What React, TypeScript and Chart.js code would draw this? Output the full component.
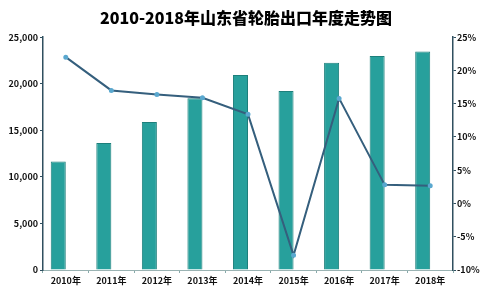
import React, { useEffect, useRef } from "react";
import { Chart, registerables } from "chart.js";

Chart.register(...registerables);

const categories = ["2010年", "2011年", "2012年", "2013年", "2014年", "2015年", "2016年", "2017年", "2018年"];
const exportVolume = [11650, 13640, 15900, 18450, 20940, 19230, 22260, 22970, 23470];
const growthRate = [22.0, 17.0, 16.4, 15.9, 13.4, -7.8, 15.8, 2.8, 2.65];
const titleText = "2010-2018年山东省轮胎出口年度走势图";

const FONT = "'Noto Sans CJK SC', 'Noto Sans', sans-serif";

export default function App() {
  const ref = useRef<HTMLCanvasElement | null>(null);

  useEffect(() => {
    document.body.style.margin = "0";
    const ctx = ref.current!.getContext("2d")!;
    const chart = new Chart(ctx, {
      data: {
        labels: categories,
        datasets: [
          {
            type: "line",
            label: "增长率",
            data: growthRate,
            yAxisID: "y1",
            borderColor: "#355f7d",
            borderWidth: 2,
            pointRadius: 1.5,
            pointBackgroundColor: "#5aa8cf",
            pointBorderColor: "#5aa8cf",
            tension: 0,
            order: 0,
          },
          {
            type: "bar",
            label: "出口量",
            data: exportVolume,
            yAxisID: "y",
            backgroundColor: "#27a09c",
            borderColor: "#1d7f7b",
            borderWidth: 1,
            barPercentage: 1,
            categoryPercentage: 0.66,
            order: 1,
          },
          {
            type: "bar",
            label: "",
            data: categories.map(() => null),
            yAxisID: "y",
            barPercentage: 1,
            categoryPercentage: 0.66,
            order: 2,
          },
        ],
      },
      options: {
        responsive: false,
        animation: false,
        layout: { padding: { left: 0, right: 0, top: 0, bottom: 0 } },
        plugins: {
          legend: { display: false },
          tooltip: { enabled: false },
          title: {
            display: true,
            text: titleText,
            color: "#000",
            font: { family: FONT, size: 16, weight: 900 },
            padding: { top: 8, bottom: 10 },
          },
        },
        scales: {
          x: {
            offset: true,
            grid: {
              display: true,
              drawOnChartArea: false,
              drawTicks: true,
              tickLength: 3,
              offset: true,
              color: "#8aa",
            },
            border: { display: true, color: "#9ab3b3", width: 1 },
            ticks: {
              color: "#111",
              font: { family: FONT, size: 9, weight: "bold" },
              padding: 2,
              maxRotation: 0,
              autoSkip: false,
            },
            afterFit: (s: any) => {
              s.height = 23;
            },
          },
          y: {
            position: "left",
            min: 0,
            max: 25000,
            ticks: {
              stepSize: 5000,
              color: "#111",
              font: { family: FONT, size: 9, weight: "bold" },
              padding: 2,
              callback: (v: any) => Number(v).toLocaleString("en-US"),
            },
            grid: {
              display: true,
              drawOnChartArea: false,
              tickLength: 3,
              color: "#2f4f5f",
            },
            border: { display: true, color: "#2f4f5f", width: 1.5 },
            afterFit: (s: any) => {
              s.width = 43;
            },
          },
          y1: {
            position: "right",
            min: -10,
            max: 25,
            ticks: {
              stepSize: 5,
              color: "#111",
              font: { family: FONT, size: 9, weight: "bold" },
              padding: 1,
              callback: (v: any) => `${v}%`,
            },
            grid: {
              display: true,
              drawOnChartArea: false,
              tickLength: 3,
              color: "#2f4f5f",
            },
            border: { display: true, color: "#2f4f5f", width: 1.5 },
            afterFit: (s: any) => {
              s.width = 39;
            },
          },
        },
      },
    });
    return () => chart.destroy();
  }, []);

  return (
    <div style={{ position: "absolute", left: 0, top: 0, width: 492, height: 293, background: "#fff" }}>
      <canvas ref={ref} width={492} height={293} />
    </div>
  );
}
